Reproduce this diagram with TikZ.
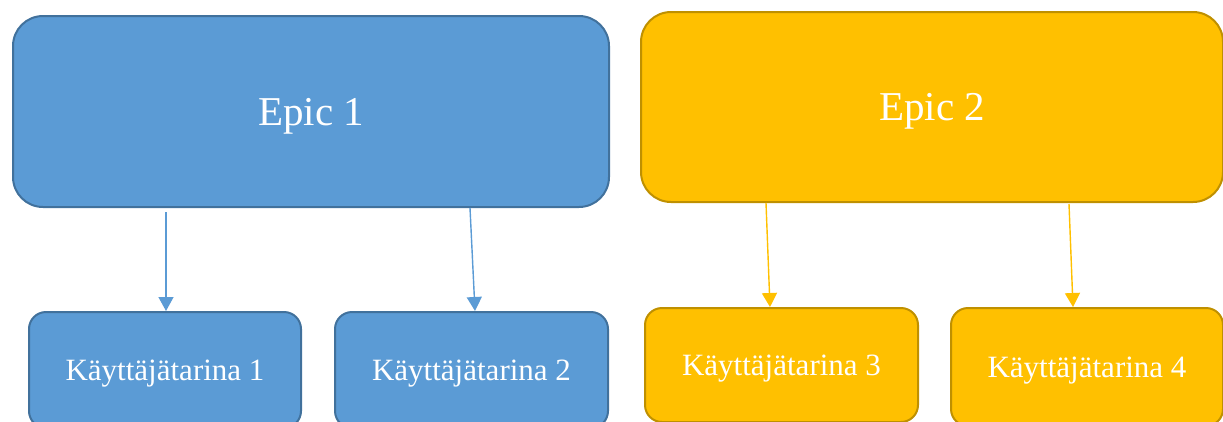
\documentclass[tikz,border=0pt]{standalone}
\usepackage{fontspec}
\setmainfont{Liberation Serif}
\usetikzlibrary{arrows.meta,calc}
\definecolor{bluefill}{HTML}{5B9BD5}
\definecolor{blueline}{HTML}{41719C}
\definecolor{goldfill}{HTML}{FFC000}
\definecolor{goldline}{HTML}{BF9000}
\tikzset{
  box/.style={rounded corners=#1, line width=2pt, text=white, inner sep=0pt,
    text depth=0pt, anchor=north west},
  bluebox/.style={fill=bluefill, draw=blueline},
  goldbox/.style={fill=goldfill, draw=goldline},
  epicbox/.style={box=30pt, font=\fontsize{41}{48}\selectfont},
  storybox/.style={box=17pt, font=\fontsize{31}{36}\selectfont},
  link/.style={line width=1.4pt, -{Triangle[width=15pt,length=14pt]}},
  bluelink/.style={link, draw=bluefill, fill=bluefill},
  goldlink/.style={link, draw=goldfill, fill=goldfill},
}
\begin{document}
\begin{tikzpicture}[x=1pt,y=-1pt]
  \useasboundingbox (0,0) rectangle (1223,421);
  \clip (0,0) rectangle (1223,421);
  % epics
  \node[epicbox, bluebox, minimum width=596pt, minimum height=191pt] (e1) at (12,15) {Epic 1};
  \node[epicbox, goldbox, minimum width=582pt, minimum height=190pt] (e2) at (640,11) {Epic 2};
  % user stories (bottom edges run past the frame)
  \node[storybox, bluebox, minimum width=272pt, minimum height=116pt] (k1) at (28,311) {Käyttäjätarina 1};
  \node[storybox, bluebox, minimum width=273pt, minimum height=116pt] (k2) at (334,311) {Käyttäjätarina 2};
  \node[storybox, goldbox, minimum width=273pt, minimum height=114pt] (k3) at (644,307) {Käyttäjätarina 3};
  \node[storybox, goldbox, minimum width=272pt, minimum height=118pt] (k4) at (950,307) {Käyttäjätarina 4};
  % links
  \draw[bluelink] ($(e1.south west)+(154,4)$) -- ($(k1.north)+(1,0)$);
  \draw[bluelink] ($(e1.south west)+(458,0)$) -- ($(k2.north)+(3.5,0)$);
  \draw[goldlink] ($(e2.south west)+(126,0)$) -- ($(k3.north)+(-11.5,0)$);
  \draw[goldlink] ($(e2.south west)+(429,1)$) -- ($(k4.north)+(-14,0)$);
\end{tikzpicture}
\end{document}
